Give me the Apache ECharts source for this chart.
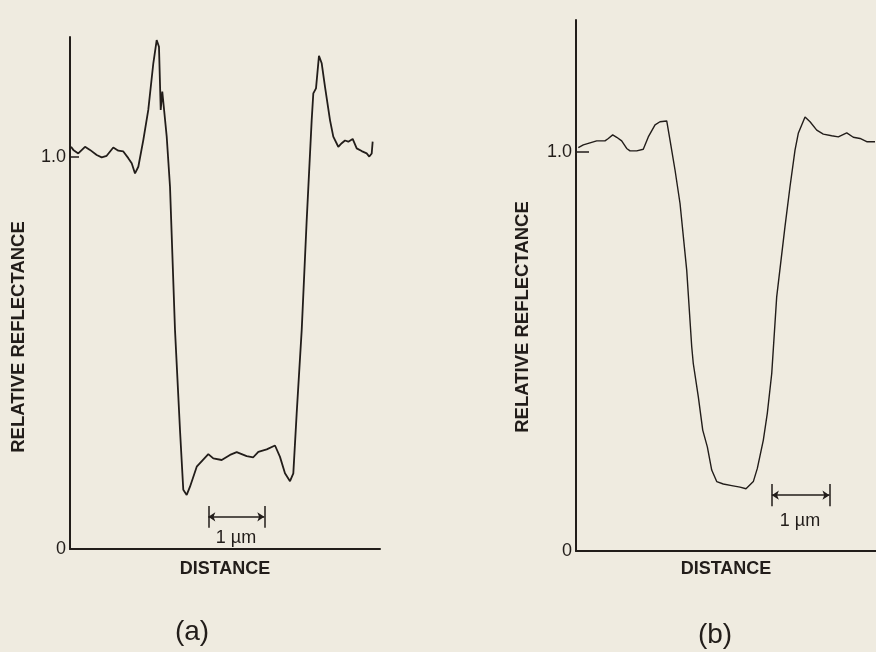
<!DOCTYPE html>
<html>
<head>
<meta charset="utf-8">
<script src="https://cdn.jsdelivr.net/npm/echarts@6/dist/echarts.min.js"></script>
<style>
html,body{margin:0;padding:0;background:#efebe0;}
#chart{width:876px;height:652px;}
</style>
</head>
<body>
<div id="chart"></div>
<script>
// panel (a): distance in um, relative reflectance
var distA = [0.018,0.059,0.148,0.268,0.357,0.477,0.566,0.655,0.773,0.863,0.952,1.041,1.102,1.161,1.220,1.309,1.398,1.488,1.548,1.589,1.620,1.648,1.679,1.727,1.786,1.875,1.964,2.023,2.084,2.143,2.263,2.321,2.470,2.559,2.709,2.857,2.977,3.155,3.273,3.363,3.513,3.661,3.750,3.839,3.929,3.988,4.048,4.138,4.227,4.316,4.345,4.393,4.446,4.495,4.554,4.643,4.702,4.791,4.852,4.911,4.970,5.048,5.120,5.209,5.298,5.345,5.388,5.405];
var reflA = [1.026,1.018,1.009,1.026,1.018,1.005,0.999,1.003,1.024,1.016,1.014,0.997,0.984,0.958,0.975,1.043,1.120,1.239,1.298,1.281,1.120,1.167,1.163,1.052,0.924,0.559,0.304,0.151,0.138,0.159,0.210,0.219,0.242,0.231,0.227,0.240,0.247,0.237,0.234,0.248,0.254,0.264,0.235,0.193,0.173,0.193,0.346,0.559,0.839,1.094,1.162,1.175,1.258,1.239,1.179,1.094,1.052,1.026,1.035,1.042,1.039,1.046,1.022,1.015,1.009,1.001,1.009,1.039];

// panel (b)
var distB = [0.040,0.127,0.243,0.359,0.503,0.561,0.637,0.707,0.793,0.880,0.938,1.054,1.168,1.255,1.372,1.458,1.575,1.632,1.719,1.806,1.922,2.009,2.036,2.123,2.200,2.280,2.356,2.443,2.557,2.703,2.847,2.951,3.078,3.148,3.252,3.321,3.398,3.484,3.628,3.715,3.802,3.859,3.976,4.063,4.179,4.293,4.439,4.554,4.700,4.814,4.931,5.047,5.191];
var reflB = [1.011,1.018,1.023,1.028,1.028,1.034,1.043,1.037,1.028,1.009,1.003,1.003,1.007,1.038,1.068,1.076,1.078,1.030,0.955,0.871,0.704,0.512,0.470,0.387,0.303,0.261,0.203,0.174,0.168,0.164,0.160,0.156,0.174,0.207,0.278,0.345,0.445,0.637,0.813,0.913,1.005,1.047,1.088,1.076,1.055,1.045,1.041,1.038,1.048,1.037,1.034,1.026,1.026];

// 1 um scale bars [x start, x end, y]
var scaleA = [2.47, 3.47, 0.082];
var scaleB = [3.40, 4.40, 0.140];

var yTicks = [0, 1];
var ink = '#221d1a';
var font = 'Liberation Sans';

function pairs(xs, ys){
	var out = [];
	for(var i = 0; i < xs.length; i++) out.push([xs[i], ys[i]]);
	return out;
}

function yAxisFor(idx, max, tickLen){
	return {
		type: 'value', gridIndex: idx, min: 0, max: max,
		splitLine: {show: false},
		axisLine: {show: true, lineStyle: {color: ink, width: 2}},
		axisTick: {show: true, inside: true, length: tickLen, customValues: yTicks,
			lineStyle: {color: ink, width: 1.5}},
		axisLabel: {show: true, customValues: yTicks, margin: 4, color: ink,
			fontFamily: font, fontSize: 18,
			formatter: function(v){ return v === 0 ? '0' : '1.0'; }}
	};
}

function xAxisFor(idx, max, gap){
	return {
		type: 'value', gridIndex: idx, min: 0, max: max,
		splitLine: {show: false},
		axisLine: {show: true, onZero: false, lineStyle: {color: ink, width: 2}},
		axisTick: {show: false},
		axisLabel: {show: false},
		name: 'DISTANCE', nameLocation: 'middle', nameGap: gap,
		nameTextStyle: {color: ink, fontFamily: font, fontSize: 18, fontWeight: 'bold'}
	};
}

function scaleSeries(idx, s){
	var h = 0.028;
	return [{
		type: 'lines', coordinateSystem: 'cartesian2d', xAxisIndex: idx, yAxisIndex: idx,
		symbol: ['arrow', 'arrow'], symbolSize: 7, silent: true,
		lineStyle: {color: ink, width: 1.5, opacity: 1},
		data: [{coords: [[s[0], s[2]], [s[1], s[2]]]}]
	}, {
		type: 'lines', coordinateSystem: 'cartesian2d', xAxisIndex: idx, yAxisIndex: idx,
		symbol: 'none', silent: true,
		lineStyle: {color: ink, width: 1.5, opacity: 1},
		data: [
			{coords: [[s[0], s[2] - h], [s[0], s[2] + h]]},
			{coords: [[s[1], s[2] - h], [s[1], s[2] + h]]}
		]
	}];
}

var chart = echarts.init(document.getElementById('chart'));

var series = [{
	type: 'line', xAxisIndex: 0, yAxisIndex: 0, data: pairs(distA, reflA),
	showSymbol: false, lineStyle: {color: ink, width: 1.8}, silent: true
}, {
	type: 'line', xAxisIndex: 1, yAxisIndex: 1, data: pairs(distB, reflB),
	showSymbol: false, lineStyle: {color: ink, width: 1.4}, silent: true
}];
series = series.concat(scaleSeries(0, scaleA), scaleSeries(1, scaleB));

chart.setOption({
	backgroundColor: '#efebe0',
	animation: false,
	grid: [
		{left: 70, top: 37, width: 310, height: 512},
		{left: 576, top: 20, width: 300, height: 531}
	],
	xAxis: [xAxisFor(0, 5.536, 11), xAxisFor(1, 5.208, 9)],
	yAxis: [yAxisFor(0, 1.306, 9), yAxisFor(1, 1.331, 13)],
	series: series,
	graphic: [
		{type: 'text', x: 19, y: 337, rotation: Math.PI / 2,
			style: {text: 'RELATIVE REFLECTANCE', fill: ink, font: 'bold 18.5px ' + font,
				textAlign: 'center', textVerticalAlign: 'middle'}},
		{type: 'text', x: 523, y: 317, rotation: Math.PI / 2,
			style: {text: 'RELATIVE REFLECTANCE', fill: ink, font: 'bold 18.5px ' + font,
				textAlign: 'center', textVerticalAlign: 'middle'}},
		{type: 'text', x: 236, y: 538,
			style: {text: '1 µm', fill: ink, font: '18px ' + font,
				textAlign: 'center', textVerticalAlign: 'middle'}},
		{type: 'text', x: 800, y: 521,
			style: {text: '1 µm', fill: ink, font: '18px ' + font,
				textAlign: 'center', textVerticalAlign: 'middle'}},
		{type: 'text', x: 192, y: 632,
			style: {text: '(a)', fill: ink, font: '28px ' + font,
				textAlign: 'center', textVerticalAlign: 'middle'}},
		{type: 'text', x: 715, y: 635,
			style: {text: '(b)', fill: ink, font: '28px ' + font,
				textAlign: 'center', textVerticalAlign: 'middle'}}
	]
});
</script>
</body>
</html>
